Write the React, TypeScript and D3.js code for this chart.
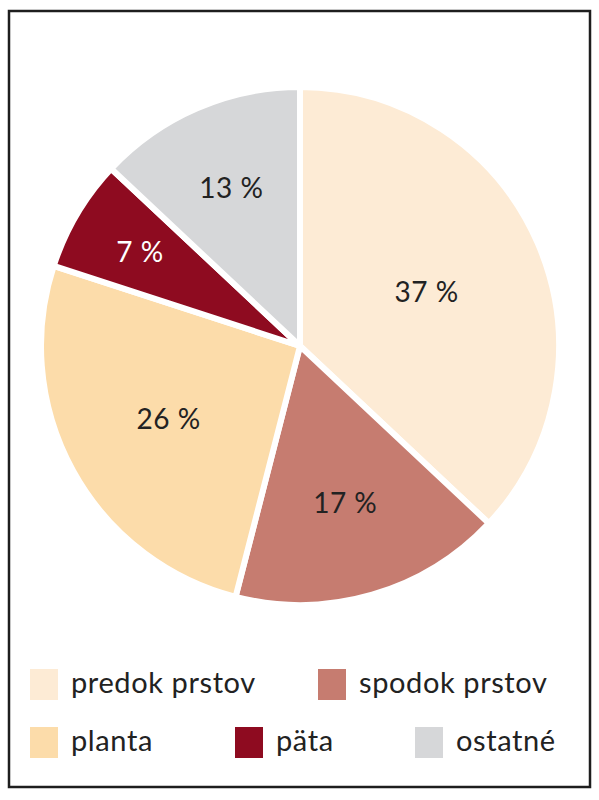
import React from "react";
import * as d3 from "d3";

const categories = ["predok prstov", "spodok prstov", "planta", "päta", "ostatné"];
const values = [37, 17, 26, 7, 13];
const colors = ["#FDEBD5", "#C67C70", "#FCDCAA", "#8E0B20", "#D6D7D9"];
const labelColors = ["#222", "#222", "#222", "#fff", "#222"];
const labelRadii = [138, 162, 150, 186, 173];

export default function App() {
  const W = 599, H = 800;
  const cx = 300, cy = 346, r = 259;
  const pie = d3.pie<number>().sort(null).value((d) => d);
  const arcs = pie(values);
  const arc = d3.arc<d3.PieArcDatum<number>>().innerRadius(0).outerRadius(r);

  const legendPos = [
    { x: 30, y: 669 },
    { x: 318, y: 669 },
    { x: 30, y: 727 },
    { x: 235, y: 727 },
    { x: 415, y: 727 },
  ];
  const font = "Lato, 'Open Sans', sans-serif";

  return (
    <svg width={W} height={H} style={{ position: "absolute", left: 0, top: 0, background: "#fff" }}>
      <rect x={9} y={11} width={581} height={776} fill="#fff" stroke="#1e1e1e" strokeWidth={2.5} />
      <g transform={`translate(${cx},${cy})`}>
        {arcs.map((a, i) => (
          <path key={i} d={arc(a) || ""} fill={colors[i]} stroke="#fff" strokeWidth={6} strokeLinejoin="round" />
        ))}
        {arcs.map((a, i) => {
          const mid = (a.startAngle + a.endAngle) / 2;
          const rr = labelRadii[i];
          return (
            <text
              key={i}
              x={Math.sin(mid) * rr}
              y={-Math.cos(mid) * rr}
              textAnchor="middle"
              dominantBaseline="central"
              fontFamily={font}
              fontSize={28}
              letterSpacing={0.5}
              fill={labelColors[i]}
            >
              {values[i]} %
            </text>
          );
        })}
      </g>
      {categories.map((c, i) => (
        <g key={c}>
          <rect x={legendPos[i].x} y={legendPos[i].y} width={28} height={31} fill={colors[i]} />
          <text
            x={legendPos[i].x + 41}
            y={legendPos[i].y + 24}
            fontFamily={font}
            fontSize={29}
            letterSpacing={0.6}
            fill="#222"
          >
            {c}
          </text>
        </g>
      ))}
    </svg>
  );
}
